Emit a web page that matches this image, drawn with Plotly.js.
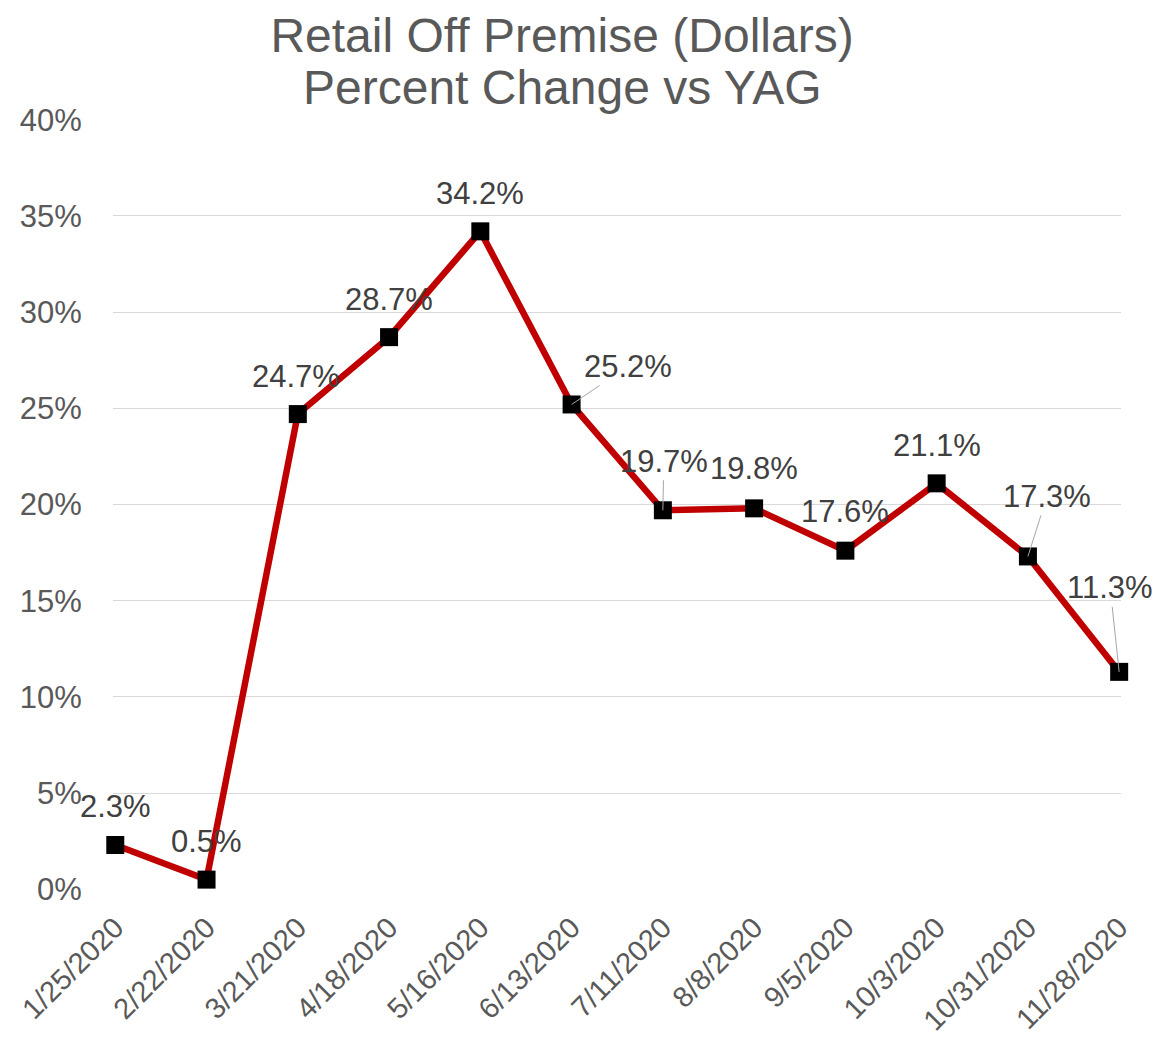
<!DOCTYPE html>
<html>
<head>
<meta charset="utf-8">
<script src="https://cdn.plot.ly/plotly-3.0.1.min.js"></script>
<style>
  body { margin: 0; background: #fff; }
  #chart { width: 1156px; height: 1038px; }
</style>
</head>
<body>
<div id="chart"></div>
<script>
// weeks ending
const weeks = ["1/25/2020", "2/22/2020", "3/21/2020", "4/18/2020", "5/16/2020", "6/13/2020",
  "7/11/2020", "8/8/2020", "9/5/2020", "10/3/2020", "10/31/2020", "11/28/2020"];
// percent change vs year ago
const pctChange = [0.023, 0.005, 0.247, 0.287, 0.342, 0.252, 0.197, 0.198, 0.176, 0.211, 0.173, 0.113];

// label placement (pixels from the point) and whether Excel drew a leader line
const labelDx = [0, 0, -2, 0, 0, 56, 1, 0, 0, 0, 19, -9];
const labelDy = [-38, -38, -38, -38, -38, -38, -49, -40, -39, -38, -60, -84];
const leader = [false, false, false, false, false, true, true, false, false, false, true, true];

const titleLines = ['Retail Off Premise (Dollars)', 'Percent Change vs YAG'];

const font = '"Liberation Sans", Arial, sans-serif';

const trace = {
  x: weeks,
  y: pctChange,
  type: 'scatter',
  mode: 'lines+markers',
  cliponaxis: false,
  line: { color: '#C00000', width: 6.5 },
  marker: { symbol: 'square', size: 18, color: '#000000' },
  hoverinfo: 'x+y'
};

const annotations = weeks.map((w, i) => {
  const a = {
    x: w,
    y: pctChange[i],
    xref: 'x',
    yref: 'y',
    text: (pctChange[i] * 100).toFixed(1) + '%',
    font: { family: font, size: 31, color: '#404040' }
  };
  if (leader[i]) {
    a.showarrow = true;
    a.arrowhead = 0;
    a.arrowwidth = 1;
    a.arrowcolor = '#A6A6A6';
    a.ax = labelDx[i];
    a.ay = labelDy[i];
    a.standoff = 0;
  } else {
    a.showarrow = false;
    a.xshift = labelDx[i];
    a.yshift = -labelDy[i];
  }
  return a;
});

// second title line as its own annotation so the line spacing matches Excel
annotations.push({
  xref: 'paper', yref: 'paper',
  x: (562 - 113) / 1008, y: 1 + (119 - 88) / 771,
  xanchor: 'center', yanchor: 'middle',
  showarrow: false,
  text: titleLines[1],
  font: { family: font, size: 48, color: '#595959' }
});

const layout = {
  width: 1156,
  height: 1038,
  margin: { l: 113, r: 35, t: 119, b: 148 },
  paper_bgcolor: '#ffffff',
  plot_bgcolor: '#ffffff',
  showlegend: false,
  title: {
    text: titleLines[0],
    font: { family: font, size: 48, color: '#595959' },
    xref: 'container',
    yref: 'container',
    x: 562 / 1156,
    xanchor: 'center',
    y: 1 - 35 / 1038,
    yanchor: 'middle'
  },
  xaxis: {
    type: 'category',
    range: [-0.025, 11.02],
    showgrid: false,
    zeroline: false,
    showline: false,
    tickangle: -45,
    ticks: 'outside',
    ticklen: 8,
    tickcolor: 'rgba(0,0,0,0)',
    tickfont: { family: font, size: 29, color: '#595959' }
  },
  yaxis: {
    range: [-0.0004, 0.4004],
    tickvals: [0, 0.05, 0.1, 0.15, 0.2, 0.25, 0.3, 0.35, 0.4],
    tickformat: '.0%',
    showgrid: true,
    gridcolor: '#D9D9D9',
    gridwidth: 1,
    zeroline: false,
    showline: false,
    ticks: 'outside',
    ticklen: 24,
    tickcolor: 'rgba(0,0,0,0)',
    tickfont: { family: font, size: 31, color: '#595959' }
  },
  annotations: annotations
};

Plotly.newPlot('chart', [trace], layout, { displayModeBar: false });
</script>
</body>
</html>
